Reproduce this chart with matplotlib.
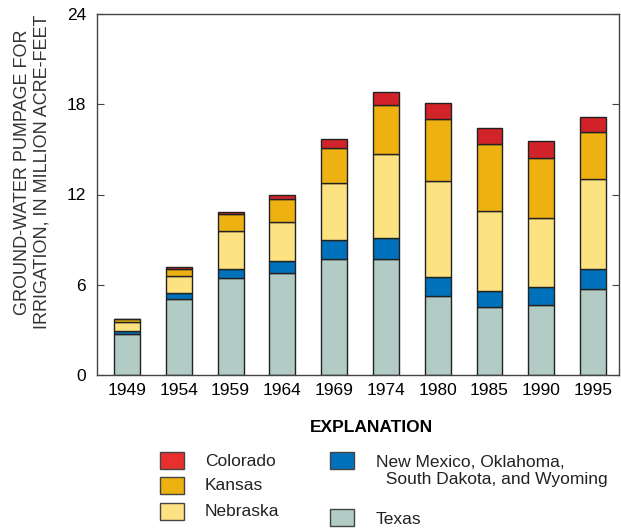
import numpy as np
import matplotlib.pyplot as plt
from matplotlib.patches import Rectangle

plt.rcParams['font.family'] = ['Liberation Sans', 'DejaVu Sans']

years = ['1949', '1954', '1959', '1964', '1969', '1974', '1980', '1985', '1990', '1995']
# million acre-feet, stacked bottom to top
texas = [2.70, 5.05, 6.45, 6.80, 7.71, 7.71, 5.25, 4.54, 4.63, 5.70]
nm_ok_sd_wy = [0.25, 0.38, 0.60, 0.76, 1.29, 1.38, 1.27, 1.02, 1.20, 1.35]
nebraska = [0.55, 1.13, 2.50, 2.63, 3.74, 5.58, 6.40, 5.37, 4.61, 5.96]
kansas = [0.20, 0.51, 1.13, 1.49, 2.35, 3.28, 4.10, 4.41, 3.97, 3.13]
colorado = [0.04, 0.09, 0.14, 0.27, 0.60, 0.87, 1.04, 1.06, 1.13, 0.99]

series = [
    ('Texas', texas, '#b2cbc5'),
    ('New Mexico, Oklahoma,\n  South Dakota, and Wyoming', nm_ok_sd_wy, '#0071bb'),
    ('Nebraska', nebraska, '#fde281'),
    ('Kansas', kansas, '#edb111'),
    ('Colorado', colorado, '#d2232a'),
]

fig = plt.figure(figsize=(6.21, 5.29), dpi=100)
ax = fig.add_axes([97/621, 1-375/529, (619-97)/621, (375-14)/529])

x = np.arange(len(years))
bottom = np.zeros(len(years))
for name, vals, col in series:
    ax.bar(x, vals, 0.5, bottom=bottom, color=col, edgecolor='#222222', linewidth=1)
    bottom += np.array(vals)

ax.set_xlim(-0.58, 9.5)
ax.set_ylim(0, 24)
ax.set_yticks([0, 6, 12, 18, 24])
ax.set_xticks(x)
ax.set_xticklabels(years)
ax.tick_params(axis='y', direction='in', length=5, right=True, labelsize=12.5, color='#444444', pad=8)
ax.tick_params(axis='x', length=0, labelsize=12.5, pad=6)
for s in ax.spines.values():
    s.set_color('#444444')
    s.set_linewidth(1)

fig.text(32/621, 1-172/529, 'GROUND-WATER PUMPAGE FOR\nIRRIGATION, IN MILLION ACRE-FEET',
         rotation=90, ha='center', va='center', multialignment='center', fontsize=13, color='#333333')

# explanation
fig.text(371/621, 1-428/529, 'EXPLANATION', ha='center', va='center', fontsize=12.5, fontweight='bold')

W, H = 621, 529
legend_items = [
    ('Colorado', '#e8302e', 160, 452, 205, 461),
    ('Kansas', '#edb111', 160, 477, 205, 486),
    ('Nebraska', '#fde281', 160, 503, 205, 512),
    ('New Mexico, Oklahoma,\n  South Dakota, and Wyoming', '#0071bb', 330, 452, 376, 471),
    ('Texas', '#b2cbc5', 330, 509, 376, 519),
]
for label, col, px, py, tx, ty in legend_items:
    fig.patches.append(Rectangle((px/W, 1-(py+17)/H), 24/W, 17/H, transform=fig.transFigure,
                                 facecolor=col, edgecolor='#444444', linewidth=1))
    fig.text(tx/W, 1-ty/H, label, ha='left', va='center', fontsize=12.5, color='#222222',
             linespacing=1.2)

fig.savefig('out.png', dpi=100)
